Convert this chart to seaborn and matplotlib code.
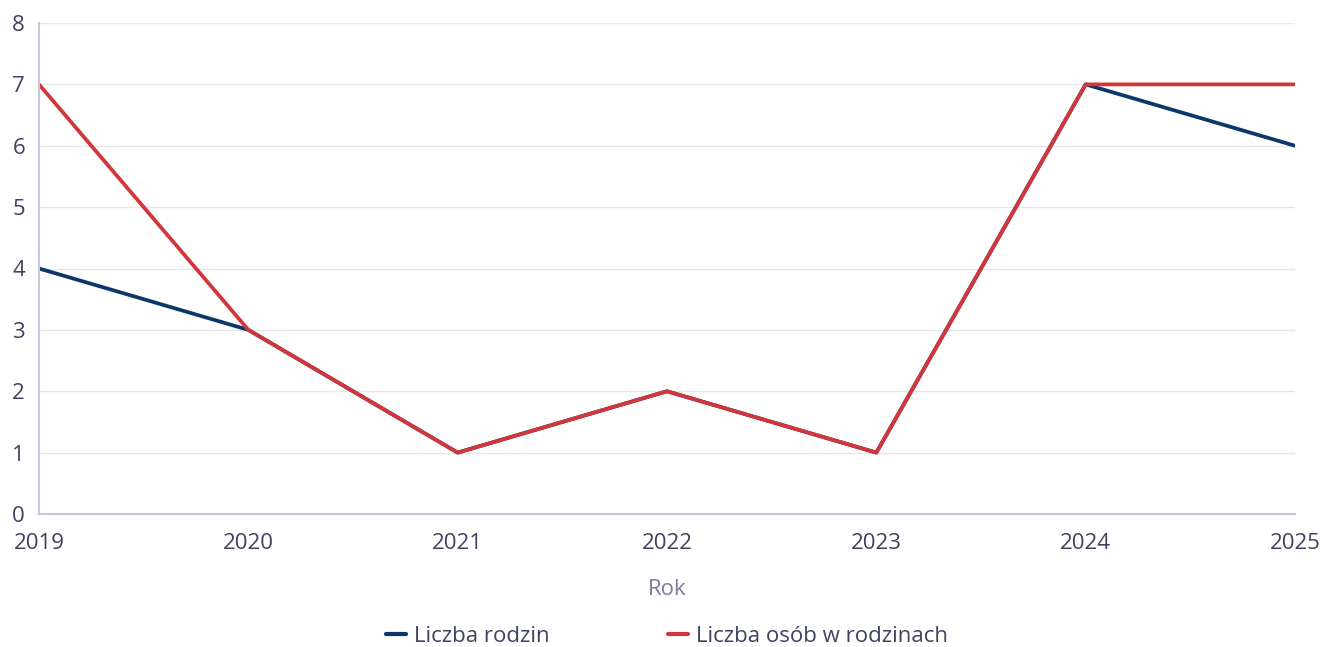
import matplotlib
matplotlib.use('Agg')
import matplotlib.pyplot as plt
import seaborn as sns
import pandas as pd

years = [2019, 2020, 2021, 2022, 2023, 2024, 2025]
liczba_rodzin = [4, 3, 1, 2, 1, 7, 6]
liczba_osob = [7, 3, 1, 2, 1, 7, 7]
series_names = ['Liczba rodzin', 'Liczba osób w rodzinach']

df = pd.DataFrame({
    'Rok': years * 2,
    'value': liczba_rodzin + liczba_osob,
    'series': [series_names[0]] * len(years) + [series_names[1]] * len(years),
})

sns.set_theme(style='white')
plt.rcParams['font.family'] = ['Open Sans', 'DejaVu Sans']

text_color = '#3f4260'
axis_color = '#c3c7d9'

fig = plt.figure(figsize=(13.22, 6.47), dpi=100)
ax = fig.add_axes([39 / 1322, 1 - 514 / 647, (1295 - 39) / 1322, (514 - 23) / 647])

# draw each line
sns.lineplot(data=df, x='Rok', y='value', hue='series',
             palette={series_names[0]: '#0b3769', series_names[1]: '#d2363a'},
             linewidth=2.7, ax=ax, legend=True)

ax.set_xlim(2019, 2025)
ax.set_ylim(0, 8)
ax.set_xticks(years)
ax.set_yticks(range(0, 9))
ax.grid(axis='y', color='#e6e6e6', linewidth=1)
ax.set_axisbelow(True)

for s in ['top', 'right']:
    ax.spines[s].set_visible(False)
for s in ['left', 'bottom']:
    ax.spines[s].set_color(axis_color)
    ax.spines[s].set_linewidth(1.5)

ax.tick_params(axis='both', length=0, labelsize=16, colors=text_color)
ax.tick_params(axis='x', pad=14)
ax.tick_params(axis='y', pad=10)
ax.set_xlabel('Rok', fontsize=16, color='#7a7d9c', labelpad=18)
ax.set_ylabel('')

leg = ax.legend(loc='center', bbox_to_anchor=(0.5, -0.25), ncol=2,
                frameon=False, fontsize=16, handlelength=0.9,
                handletextpad=0.36, columnspacing=5.3, labelcolor=text_color)
for line in leg.get_lines():
    line.set_linewidth(3)

fig.savefig('out.png', dpi=100)
